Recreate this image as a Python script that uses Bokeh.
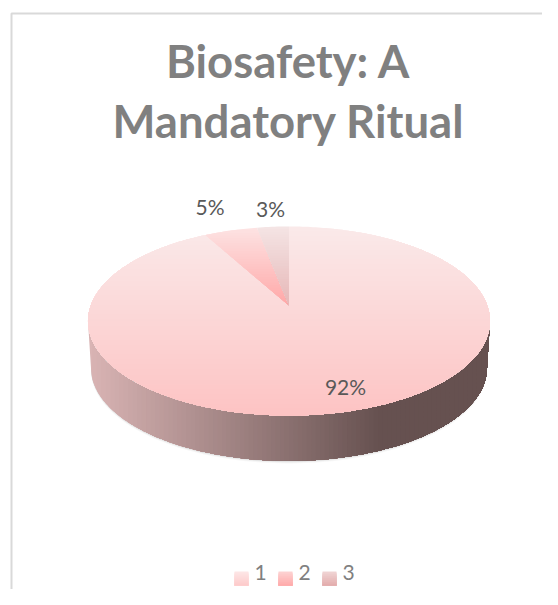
import numpy as np
from bokeh.plotting import figure
from bokeh.core.properties import value
from bokeh.embed import file_html
from bokeh.resources import INLINE

# ---- data ----
categories = ["1", "2", "3"]
shares = [92, 5, 3]
labels = ["92%", "5%", "3%"]
title_lines = ["Biosafety: A", "Mandatory Ritual"]

# gradient colours: (start, end) per slice
top_colors = [("#fae9e9", "#fdc3c3"), ("#fde2e2", "#ffa6a6"), ("#f4e4e4", "#e6b6b6")]
legend_colors = [("#fde6e6", "#fdc9c9"), ("#fdd2d2", "#ffa8a8"), ("#f0d4d4", "#e2aaaa")]
side_colors = ("#d9b4b4", "#665150")

W, H = 542, 589
p = figure(width=W, height=H, x_range=(0, W), y_range=(H, 0), toolbar_location=None,
           output_backend="svg", min_border=0, outline_line_color=None,
           background_fill_color="white", border_fill_color="white")
p.xaxis.visible = False
p.yaxis.visible = False
p.grid.visible = False


def hexrgb(c):
    return np.array([int(c[i:i + 2], 16) for i in (1, 3, 5)], dtype=float)


def mix(c0, c1, t):
    t = min(max(t, 0), 1)
    r = hexrgb(c0) * (1 - t) + hexrgb(c1) * t
    return "#%02x%02x%02x" % tuple(int(round(v)) for v in r)


# perspective projection of the pie disc
CX, CY = 288.5, 305
B = 0.164
A = 92.0
RX = 198.3


def proj(theta, scale=1.0, dy=0.0):
    u, v = np.sin(theta), np.cos(theta)
    d = 1 + B * v
    return CX + scale * RX * u / d, CY - scale * A * v / d + dy


def clip(pts, axis, limit):
    """keep the part of a polygon with coordinate >= limit"""
    out = []
    n = len(pts)
    for i in range(n):
        a, b = pts[i], pts[(i + 1) % n]
        ina, inb = a[axis] >= limit, b[axis] >= limit
        if ina:
            out.append(a)
        if ina != inb:
            t = (limit - a[axis]) / (b[axis] - a[axis])
            out.append((a[0] + t * (b[0] - a[0]), a[1] + t * (b[1] - a[1])))
    return out


def stacked(pts, axis, lo, hi, c0, c1, stops=70, flat_from=None):
    span = (flat_from if flat_from is not None else hi) - lo
    for i, l in enumerate(np.linspace(lo, hi, stops, endpoint=False)):
        poly = pts if i == 0 else clip(pts, axis, l)
        if len(poly) < 3:
            continue
        p.patch([q[0] for q in poly], [q[1] for q in poly],
                fill_color=mix(c0, c1, (l - lo) / span), line_color=None)


# frame
p.line([11, 11, W], [H, 13, 13], line_color="#d9d9d9", line_width=2)

# soft shadow below the side wall
ring = np.linspace(0, 2 * np.pi, 240)
for grow, alpha in [(2.5, 0.05), (1.5, 0.08), (0.7, 0.12)]:
    x, y = proj(ring, 0.985, 47 + grow)
    p.patch(list(x), list(y), fill_color="#606060", fill_alpha=alpha, line_color=None)

# side wall
low = np.linspace(np.pi / 2 + 0.17, 3 * np.pi / 2 - 0.17, 200)
bx, by = proj(low, 0.985, 47)
tx0, ty0 = proj(np.array([np.pi / 2 + 0.164]))
tx1, ty1 = proj(np.array([3 * np.pi / 2 - 0.164]))
side = [(float(tx0[0]), float(ty0[0]))] + list(zip(bx.tolist(), by.tolist())) + [(float(tx1[0]), float(ty1[0]))]
xs = [q[0] for q in side]
stacked(side, 0, min(xs), max(xs), side_colors[0], side_colors[1], stops=90,
        flat_from=min(xs) + 0.72 * (max(xs) - min(xs)))

# slices of the top face
total = sum(shares)
edges = np.cumsum([0] + shares) / total * 2 * np.pi
ys_all = proj(ring)[1]
for i, (s0, s1) in enumerate(zip(edges[:-1], edges[1:])):
    th = np.linspace(s0, s1, max(8, int(shares[i] * 4)))
    x, y = proj(th)
    poly = [(CX, CY)] + list(zip(x.tolist(), y.tolist()))
    if i == 0:
        lo, hi = ys_all.min(), ys_all.max()
    else:
        lo, hi = min(q[1] for q in poly), CY
    stacked(poly, 1, lo, hi, top_colors[i][0], top_colors[i][1], stops=80 if i == 0 else 30)

# title
p.text([288] * 2, [60, 120], text=title_lines, text_align="center",
       text_baseline="middle", text_font=value("Lato"), text_font_style="bold",
       text_font_size="45.5px", text_color="#808080")

# data labels
p.text([345, 209.5, 270], [386, 206, 207.5], text=labels,
       text_align="center", text_baseline="middle", text_font=value("Lato"),
       text_font_size="21px", text_color="#595959")

# legend
for i, cat in enumerate(categories):
    x0 = 234 + i * 44
    y0, y1 = 571, 585
    box = [(x0, y0), (x0 + 14, y0), (x0 + 14, y1), (x0, y1)]
    stacked(box, 1, y0, y1, legend_colors[i][0], legend_colors[i][1], stops=14)
    p.text([x0 + 26], [572], text=[cat], text_align="center", text_baseline="middle",
           text_font=value("Lato"), text_font_size="21px", text_color="#808080")

open("out.html", "w").write(file_html(p, INLINE))
